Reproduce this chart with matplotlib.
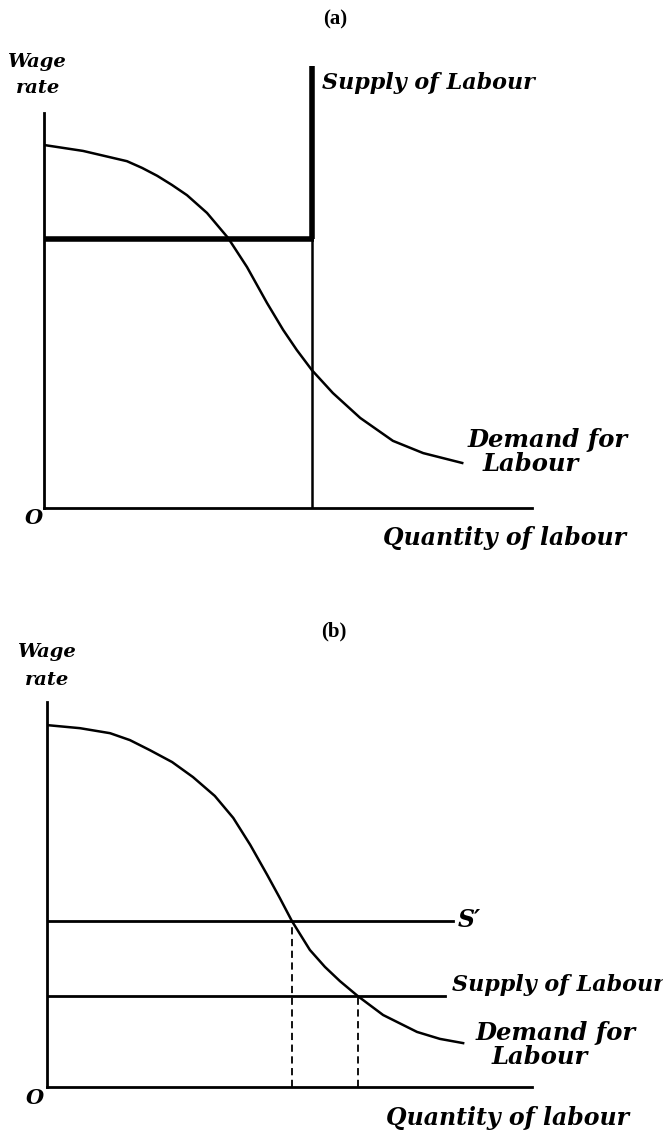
import matplotlib
matplotlib.use("Agg")
import matplotlib.pyplot as plt

# panel (a): demand curve (quantity, wage), 0..100 scale
demand_a_q = [0, 8.0, 12.5, 17.0, 20.1, 23.2, 26.2, 29.3, 33.4, 37.7, 41.6, 45.7, 49.0,
              51.8, 54.9, 59.2, 64.8, 71.5, 77.7, 85.7]
demand_a_w = [91.9, 90.4, 89.1, 87.8, 86.1, 84.1, 81.8, 79.2, 74.7, 68.4, 61.0, 51.9, 45.1,
              40.0, 34.9, 29.1, 22.8, 17.0, 13.9, 11.4]
supply_a_q = 55          # vertical supply of labour
floor_a_w = 68           # wage floor (thick horizontal)
supply_a_top = 112

# panel (b)
demand_b_q = [0, 6.8, 13.0, 17.1, 21.2, 25.8, 30.1, 34.6, 38.4, 41.9, 45.4, 48.0, 50.5,
              54.2, 57.3, 60.4, 64.1, 69.3, 76.3, 81.0, 85.8]
demand_b_w = [94.0, 93.2, 91.9, 90.1, 87.5, 84.4, 80.5, 75.6, 69.9, 62.9, 55.1, 49.1, 43.1,
              35.6, 31.2, 27.5, 23.6, 18.7, 14.3, 12.5, 11.4]
s_prime_w = 43.1
s_prime_end = 83.7
supply_b_w = 23.6
supply_b_end = 82.1
q_high = 50.5
q_low = 64.1

W, H = 663, 1134
fig = plt.figure(figsize=(W / 100, H / 100), dpi=100)


def fx(px):
    return px / W


def fy(py):
    return 1 - py / H


script = dict(family="DejaVu Serif", weight="bold", style="italic", color="black")
label = dict(family="Liberation Serif", weight="bold", color="black")


def setup(ax):
    ax.set_xlim(0, 100)
    ax.set_ylim(0, 100)
    for s in ["top", "right"]:
        ax.spines[s].set_visible(False)
    for s in ["left", "bottom"]:
        ax.spines[s].set_linewidth(2)
    ax.set_xticks([])
    ax.set_yticks([])
    ax.patch.set_alpha(0)


# ---- (a) ----
ax_a = fig.add_axes([fx(44), fy(508), (532 - 44) / W, (508 - 113) / H])
setup(ax_a)
ax_a.plot(demand_a_q, demand_a_w, color="black", lw=1.8, solid_joinstyle="round")
ax_a.plot([supply_a_q, supply_a_q], [floor_a_w, supply_a_top], color="black", lw=4,
          clip_on=False, solid_capstyle="butt")
ax_a.plot([supply_a_q, supply_a_q], [0, floor_a_w], color="black", lw=1.8)
ax_a.plot([0, supply_a_q + 0.4], [floor_a_w, floor_a_w], color="black", lw=4,
          solid_capstyle="butt")

fig.text(fx(335), fy(19), "(a)", ha="center", va="center", fontsize=15, **label)
fig.text(fx(36), fy(62), "Wage", ha="center", va="center", fontsize=14, **script)
fig.text(fx(38), fy(88), "rate", ha="center", va="center", fontsize=14, **script)
fig.text(fx(322), fy(83), "Supply of Labour", ha="left", va="center", fontsize=16, **script)
fig.text(fx(548), fy(440), "Demand for", ha="center", va="center", fontsize=17.5, **script)
fig.text(fx(531), fy(464), "Labour", ha="center", va="center", fontsize=17.5, **script)
fig.text(fx(34), fy(518), "O", ha="center", va="center", fontsize=15, **script)
fig.text(fx(505), fy(538), "Quantity of labour", ha="center", va="center", fontsize=17, **script)

# ---- (b) ----
ax_b = fig.add_axes([fx(47), fy(1087), (532 - 47) / W, (1087 - 702) / H])
setup(ax_b)
ax_b.plot(demand_b_q, demand_b_w, color="black", lw=1.8, solid_joinstyle="round")
ax_b.plot([0, s_prime_end], [s_prime_w, s_prime_w], color="black", lw=2)
ax_b.plot([0, supply_b_end], [supply_b_w, supply_b_w], color="black", lw=2)
ax_b.plot([q_high, q_high], [0, s_prime_w], color="black", lw=1.3, ls=(0, (4, 2.5)))
ax_b.plot([q_low, q_low], [0, supply_b_w], color="black", lw=1.3, ls=(0, (4, 2.5)))

fig.text(fx(334), fy(631), "(b)", ha="center", va="center", fontsize=15, **label)
fig.text(fx(46), fy(652), "Wage", ha="center", va="center", fontsize=14, **script)
fig.text(fx(47), fy(680), "rate", ha="center", va="center", fontsize=14, **script)
fig.text(fx(458), fy(920), "S\u2032", ha="left", va="center", fontsize=17, **script)
fig.text(fx(452), fy(985), "Supply of Labour", ha="left", va="center", fontsize=16, **script)
fig.text(fx(556), fy(1033), "Demand for", ha="center", va="center", fontsize=17.5, **script)
fig.text(fx(540), fy(1057), "Labour", ha="center", va="center", fontsize=17.5, **script)
fig.text(fx(35), fy(1098), "O", ha="center", va="center", fontsize=15, **script)
fig.text(fx(508), fy(1118), "Quantity of labour", ha="center", va="center", fontsize=17, **script)

fig.savefig("out.png", dpi=100, facecolor="white")
